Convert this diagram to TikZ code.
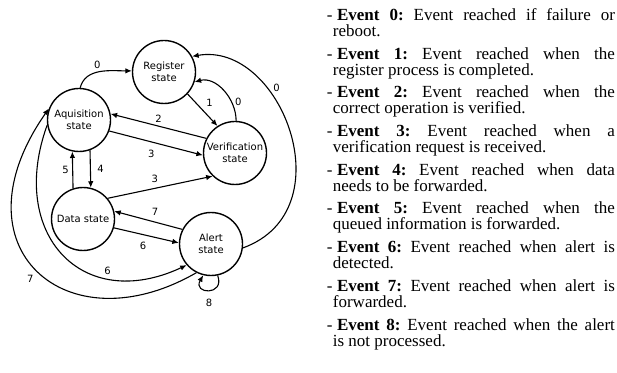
\documentclass[tikz,border=0pt]{standalone}
\usepackage{fontspec}
\setmainfont{Liberation Serif}
\newfontfamily\statefont{DejaVu Sans}
\usepackage{tikz}
\usetikzlibrary{arrows.meta}
\newcommand{\eventline}[3]{\hangindent=6pt\hangafter=1 -\hspace{4.5pt}\textbf{Event #1:} #2\linebreak #3\par}

\begin{document}
\begin{tikzpicture}[x=1pt,y=1pt,font=\statefont\fontsize{10}{12.3}\selectfont]
\tikzstyle{state node}=[circle,draw,line width=1.4pt,minimum size=63pt,inner sep=0,align=center]
\tikzstyle{event arc}=[line width=1.1pt,-{Latex[length=6.5pt,width=5.5pt]}]
\useasboundingbox (0,0) rectangle (617,372);
\node(reg)[state node] at (164,300){Register\\state};
\node(acq)[state node] at (79,252){Aquisition\\state};
\node(ver)[state node] at (235,219){Verification\\state};
\node(dat)[state node] at (83,153){Data state};
\node(alr)[state node] at (211,128){Alert\\state};
\draw[event arc] (acq.88) to[out=75,in=180] node[above,pos=0.45]{0} (reg.178);
\draw[event arc] (reg.-43) -- node[above right]{1} (ver.123);
\draw[event arc] (ver.88) to[out=90,in=15] node[right,pos=0.3]{0} (reg.-18);
\draw[event arc] (ver.153) -- node[above]{2} (acq.11);
\draw[event arc] (acq.-20) -- node[below=4pt,pos=0.45]{3} (ver.184);
\draw[event arc] (dat.40) -- node[above=2pt,pos=0.45]{3} (ver.-134);
\draw[event arc] (acq.-70) -- node[right=3pt]{4} (dat.76);
\draw[event arc] (dat.108) -- node[left]{5} (acq.-102);
\draw[event arc] (alr.153) -- node[above=3pt,pos=0.4]{7} (dat.14);
\draw[event arc] (dat.-16) -- node[below=4pt,pos=0.45]{6} (alr.178);
\draw[event arc] (acq.189) to[out=250,in=205,looseness=1.5] node[above,pos=0.72]{6} (alr.221);
\draw[event arc] (alr.243) to[out=210,in=235,out distance=150pt,in distance=170pt] node[below left,pos=0.5]{7} (acq.159);
\draw[event arc] (alr.-7) to[out=20,in=10,out distance=110pt,in distance=90pt] node[right=4pt,pos=0.68]{0} (reg.29);
\draw[event arc] (alr.-78) to[out=-70,in=-120,out distance=22pt,in distance=22pt] node[below=5pt]{8} (alr.-104);
\node(events)[anchor=north west,text width=288pt,inner sep=0,align=justify,font=\rmfamily\fontsize{17}{16}\selectfont] at (326.7,363.7){%
\parindent=0pt\parskip=6.7pt\frenchspacing
\eventline{0}{Event reached if failure or}{reboot.}
\eventline{1}{Event reached when the}{register process is completed.}
\eventline{2}{Event reached when the}{correct operation is verified.}
\eventline{3}{Event reached when a}{verification request is received.}
\eventline{4}{Event reached when data}{needs to be forwarded.}
\eventline{5}{Event reached when the}{queued information is forwarded.}
\eventline{6}{Event reached when alert is}{detected.}
\eventline{7}{Event reached when alert is}{forwarded.}
\eventline{8}{Event reached when the alert}{is not processed.}};
\end{tikzpicture}
\end{document}
